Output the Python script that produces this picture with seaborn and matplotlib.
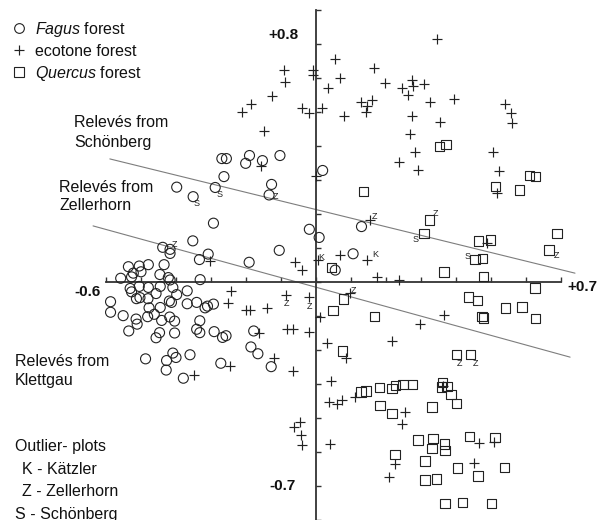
import numpy as np
import matplotlib
matplotlib.use("Agg")
import matplotlib.pyplot as plt
from matplotlib.lines import Line2D
import seaborn as sns

# ---------------- data (ordination scores) ----------------
fagus_x = [-0.269, -0.256, -0.190, -0.201, -0.153, -0.103, -0.263, -0.398, -0.351, -0.288,
           -0.127, -0.134, -0.293, -0.352, -0.438, -0.417, -0.417, -0.308, -0.333, -0.105,
           -0.191, 0.019, -0.019, 0.009, 0.130, 0.106, 0.055, -0.536, -0.505, -0.479,
           -0.434, -0.522, -0.500, -0.558, -0.527, -0.446, -0.422, -0.417, -0.331, -0.531,
           -0.527, -0.505, -0.479, -0.445, -0.409, -0.368, -0.513, -0.503, -0.480, -0.457,
           -0.398, -0.419, -0.413, -0.587, -0.587, -0.551, -0.514, -0.511, -0.477, -0.445,
           -0.481, -0.462, -0.441, -0.418, -0.404, -0.368, -0.341, -0.317, -0.310, -0.293,
           -0.332, -0.341, -0.332, -0.291, -0.267, -0.257, -0.404, -0.457, -0.447, -0.535,
           -0.487, -0.427, -0.409, -0.400, -0.360, -0.428, -0.379, -0.272, -0.178, -0.186,
           -0.166, -0.128]
fagus_y = [0.363, 0.363, 0.372, 0.349, 0.357, 0.372, 0.310, 0.279, 0.251, 0.278,
           0.287, 0.256, 0.173, 0.121, 0.102, 0.096, 0.084, 0.082, 0.066, 0.093,
           0.058, 0.328, 0.155, 0.131, 0.163, 0.083, 0.035, 0.045, 0.047, 0.051,
           0.051, 0.026, 0.030, 0.011, 0.015, 0.022, 0.013, 0.006, 0.007, -0.019,
           -0.029, -0.013, -0.016, -0.013, -0.016, -0.026, -0.049, -0.046, -0.049, -0.034,
           -0.037, -0.056, -0.060, -0.058, -0.089, -0.099, -0.109, -0.124, -0.076, -0.075,
           -0.102, -0.095, -0.113, -0.103, -0.115, -0.064, -0.060, -0.076, -0.071, -0.065,
           -0.114, -0.139, -0.149, -0.146, -0.163, -0.158, -0.150, -0.164, -0.149, -0.144,
           -0.226, -0.231, -0.209, -0.222, -0.214, -0.259, -0.283, -0.239, -0.144, -0.191,
           -0.211, -0.249]

ecotone_x = [0.347, 0.053, -0.009, -0.009, 0.165, 0.069, 0.033, 0.196, 0.273, 0.277,
             0.309, 0.246, 0.263, 0.129, 0.161, 0.144, 0.146, 0.018, -0.020, -0.039,
             0.080, 0.327, 0.395, 0.274, 0.355, 0.269, 0.540, 0.557, 0.561, 0.283,
             0.236, 0.291, 0.506, 0.523, 0.516, -0.001, 0.153, -0.091, -0.089, -0.127,
             -0.186, -0.211, -0.149, -0.158, 0.068, 0.146, 0.005, -0.060, -0.039, -0.303,
             0.173, 0.236, 0.488, 0.096, -0.020, 0.010, -0.020, 0.030, 0.216, 0.086,
             0.367, 0.296, 0.044, 0.037, 0.059, 0.073, 0.111, 0.363, 0.254, 0.246,
             0.040, 0.466, 0.509, 0.226, 0.208, 0.452, -0.244, -0.251, -0.201, -0.189,
             -0.139, -0.086, -0.163, -0.083, -0.066, -0.119, -0.067, -0.247, -0.348, -0.064,
             -0.046, -0.043, -0.040]
ecotone_y = [0.714, 0.657, 0.624, 0.610, 0.629, 0.599, 0.571, 0.584, 0.594, 0.577,
             0.581, 0.570, 0.550, 0.530, 0.535, 0.500, 0.518, 0.512, 0.498, 0.513,
             0.488, 0.529, 0.538, 0.488, 0.471, 0.435, 0.525, 0.496, 0.469, 0.383,
             0.354, 0.329, 0.381, 0.326, 0.262, 0.313, 0.182, 0.624, 0.588, 0.548,
             0.524, 0.501, 0.443, 0.340, 0.078, 0.065, 0.065, 0.058, 0.034, 0.063,
             0.016, 0.007, 0.116, -0.033, -0.043, -0.102, -0.146, -0.180, -0.174, -0.224,
             -0.098, -0.123, -0.291, -0.352, -0.359, -0.348, -0.337, -0.306, -0.383, -0.419,
             -0.476, -0.474, -0.472, -0.536, -0.574, -0.533, -0.026, -0.063, -0.083, -0.081,
             -0.077, -0.038, -0.150, -0.139, -0.139, -0.223, -0.261, -0.246, -0.274, -0.427,
             -0.412, -0.450, -0.480]

quercus_x = [0.353, 0.371, 0.136, 0.513, 0.581, 0.610, 0.627, 0.325, 0.308, 0.465,
             0.498, 0.689, 0.666, 0.454, 0.475, 0.044, 0.366, 0.478, 0.626, 0.436,
             0.461, 0.541, 0.588, 0.627, 0.474, 0.479, 0.167, 0.049, 0.078, 0.075,
             0.401, 0.441, 0.128, 0.143, 0.181, 0.217, 0.227, 0.248, 0.276, 0.362,
             0.358, 0.374, 0.386, 0.401, 0.331, 0.183, 0.217, 0.291, 0.334, 0.332,
             0.367, 0.369, 0.438, 0.511, 0.226, 0.312, 0.312, 0.345, 0.404, 0.463,
             0.538, 0.369, 0.418, 0.502]
quercus_y = [0.398, 0.405, 0.267, 0.281, 0.271, 0.314, 0.310, 0.182, 0.143, 0.121,
             0.124, 0.143, 0.094, 0.066, 0.069, 0.043, 0.029, 0.016, -0.018, -0.044,
             -0.055, -0.077, -0.074, -0.108, -0.102, -0.106, -0.102, -0.083, -0.050, -0.203,
             -0.213, -0.213, -0.324, -0.320, -0.310, -0.313, -0.305, -0.302, -0.301, -0.295,
             -0.309, -0.307, -0.331, -0.357, -0.368, -0.364, -0.386, -0.465, -0.461, -0.489,
             -0.476, -0.496, -0.455, -0.457, -0.507, -0.527, -0.582, -0.580, -0.547, -0.571,
             -0.545, -0.651, -0.648, -0.651]

# outlier plot codes (K = Kaetzler, Z = Zellerhorn, S = Schoenberg)
outlier_codes = ["Z", "S", "S", "Z", "K", "K", "Z", "Z", "S", "S", "Z", "Z", "Z", "Z", "Z", "Z"]
outlier_x = [-0.403, -0.341, -0.277, -0.116, 0.016, 0.168, 0.166, 0.342, 0.285, 0.432,
             0.686, 0.106, -0.084, -0.018, 0.411, 0.457]
outlier_y = [0.109, 0.231, 0.257, 0.251, 0.071, 0.081, 0.193, 0.202, 0.124, 0.074,
             0.079, -0.026, -0.063, -0.072, -0.239, -0.239]

# separating lines between regions
line1_x = [-0.589, 0.740]
line1_y = [0.362, 0.026]
line2_x = [-0.637, 0.726]
line2_y = [0.165, -0.221]

# axis extents
x_axis_range = (-0.6, 0.7)
y_axis_range = (-0.7, 0.8)

# ---------------- style ----------------
sns.set_style("white")
plt.rcParams["font.family"] = ["Liberation Sans", "DejaVu Sans"]
plt.rcParams["mathtext.fontset"] = "custom"
plt.rcParams["mathtext.rm"] = "Liberation Sans"
plt.rcParams["mathtext.it"] = "Liberation Sans:italic"

W, H = 606, 520
fig = plt.figure(figsize=(W / 100, H / 100), dpi=100)
ax = fig.add_axes([0, 0, 1, 1])
ax.set_facecolor("white")

ink = "#222222"

ax.plot(line1_x, line1_y, color="#7d7d7d", lw=0.8, zorder=1)
ax.plot(line2_x, line2_y, color="#7d7d7d", lw=0.8, zorder=1)

sns.scatterplot(x=fagus_x, y=fagus_y, marker="o", s=52, facecolors="none",
                edgecolors=ink, linewidth=0.8, ax=ax, zorder=3)
sns.scatterplot(x=ecotone_x, y=ecotone_y, marker="+", s=60, color=ink,
                linewidth=0.85, ax=ax, zorder=3)
sns.scatterplot(x=quercus_x, y=quercus_y, marker="s", s=46, facecolors="none",
                edgecolors=ink, linewidth=0.8, ax=ax, zorder=3)

for code, xx, yy in zip(outlier_codes, outlier_x, outlier_y):
    ax.text(xx, yy, code, fontsize=6.5, ha="center", va="center", color=ink)

ax.set_xlim(-316 / 350, 290 / 350)
ax.set_ylim(-238 / 340, 282 / 340)

# cross-shaped axes through the origin
for side in ["top", "right"]:
    ax.spines[side].set_visible(False)
ax.spines["left"].set_position(("data", 0))
ax.spines["bottom"].set_position(("data", 0))
ax.spines["left"].set_bounds(*y_axis_range)
ax.spines["bottom"].set_bounds(*x_axis_range)
for side in ["left", "bottom"]:
    ax.spines[side].set_linewidth(1.3)
    ax.spines[side].set_color("#333333")
ax.set_xticks(np.round(np.arange(-0.6, 0.71, 0.1), 2))
ax.set_yticks(np.round(np.arange(-0.7, 0.81, 0.1), 2))
ax.tick_params(axis="both", direction="in", length=3.8, width=1.0, color="#333333",
               labelleft=False, labelbottom=False, left=True, bottom=True)
ax.set_xlabel("")
ax.set_ylabel("")


def ftext(px, py, s, **kw):
    kw.setdefault("fontsize", 11.5)
    kw.setdefault("va", "center")
    kw.setdefault("color", "#111111")
    return fig.text(px / W, 1 - py / H, s, **kw)


# end-of-axis labels
ftext(283, 35, "+0.8", ha="center", fontweight="bold", fontsize=11)
ftext(87.5, 292, "-0.6", ha="center", fontweight="bold", fontsize=11)
ftext(582, 287, "+0.7", ha="center", fontweight="bold", fontsize=11)
ftext(283, 486, "-0.7", ha="center", fontweight="bold", fontsize=11)

# region annotations
ftext(74, 122.7, "Relevés from")
ftext(74, 142.7, "Schönberg")
ftext(59, 187.3, "Relevés from")
ftext(59, 206, "Zellerhorn")
ftext(15, 361.7, "Relevés from")
ftext(15, 380.7, "Klettgau")
ftext(15, 446, "Outlier- plots")
ftext(22, 469, "K - Kätzler")
ftext(22, 492, "Z - Zellerhorn")
ftext(15, 514, "S - Schönberg")

# legend
handles = [
    Line2D([], [], ls="none", marker="o", ms=7.0, mfc="none", mec=ink, mew=0.8),
    Line2D([], [], ls="none", marker="+", ms=7.5, color=ink, mew=0.85),
    Line2D([], [], ls="none", marker="s", ms=6.8, mfc="none", mec=ink, mew=0.8),
]
labels = [r"$\mathit{Fagus}$ forest", "ecotone forest", r"$\mathit{Quercus}$ forest"]
fig.legend(handles, labels, loc="upper left", bbox_to_anchor=(11.3 / W, 1 - 20 / H),
           bbox_transform=fig.transFigure, frameon=False, fontsize=11.5,
           borderpad=0, borderaxespad=0, handlelength=1.0, handletextpad=0.48,
           labelspacing=0.3, labelcolor="#111111")

fig.savefig("out.png", dpi=100)
